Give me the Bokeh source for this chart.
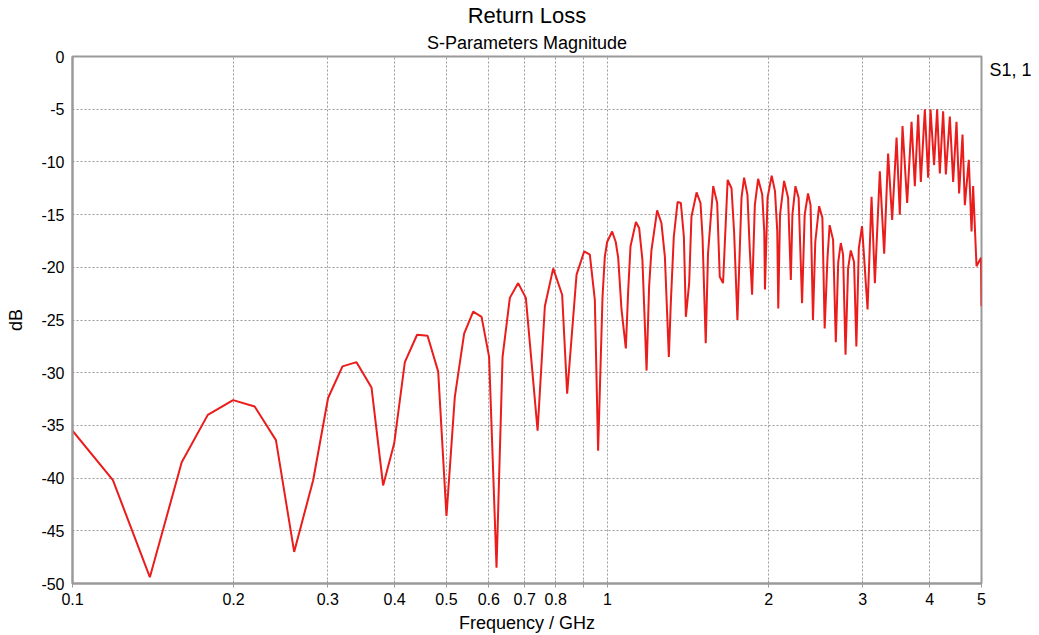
from bokeh.plotting import figure
from bokeh.models import FixedTicker, CustomJSTickFormatter, Title, Range1d, LinearAxis
from bokeh.embed import file_html
from bokeh.resources import INLINE

# ---- data (frequency in GHz, S11 in dB) ----
freq_low = [0.100, 0.119, 0.1395, 0.160, 0.179, 0.1996, 0.219, 0.240, 0.2596, 0.2817,
            0.3004, 0.3196, 0.3395, 0.3621, 0.3807, 0.3993, 0.418, 0.4406, 0.4609, 0.4825]
db_low = [-35.5, -40.2, -49.4, -38.5, -34.0, -32.6, -33.2, -36.4, -47.0, -40.2,
          -32.4, -29.4, -29.0, -31.4, -40.7, -36.7, -29.0, -26.4, -26.5, -29.9]

freq_mid = [0.500, 0.5183, 0.5395, 0.5609, 0.5815, 0.6007, 0.6202, 0.6365, 0.6568, 0.6807,
            0.7036, 0.7401, 0.7636, 0.7915, 0.8226, 0.8405, 0.8752, 0.9044, 0.9267, 0.9468,
            0.9603]
db_mid = [-43.6, -32.3, -26.3, -24.2, -24.7, -28.5, -48.5, -28.5, -22.9, -21.5,
          -22.9, -35.5, -23.7, -20.1, -22.6, -32.0, -20.7, -18.5, -18.8, -23.1,
          -37.4]

freq_1to2 = [0.9787, 0.9884, 0.9983, 1.020, 1.036, 1.047, 1.062, 1.082, 1.093, 1.104,
             1.130, 1.146, 1.162, 1.183, 1.196, 1.208, 1.238, 1.261, 1.280, 1.302,
             1.313, 1.330, 1.352, 1.371, 1.389, 1.401, 1.421, 1.435, 1.467, 1.492,
             1.505, 1.526, 1.541, 1.576, 1.603, 1.621, 1.644, 1.677, 1.705, 1.724,
             1.749, 1.767, 1.780, 1.800, 1.826, 1.844, 1.863, 1.885, 1.912, 1.946,
             1.963, 1.969, 1.991]
db_1to2 = [-22.8, -19.0, -17.6, -16.6, -17.6, -19.1, -24.0, -27.7, -22.2, -18.0,
           -15.7, -16.3, -19.3, -29.8, -21.8, -18.4, -14.6, -15.8, -19.0, -28.5,
           -23.4, -17.1, -13.8, -13.9, -17.1, -24.7, -21.5, -15.2, -12.9, -13.9,
           -17.1, -27.2, -18.7, -12.3, -13.9, -20.9, -21.5, -11.7, -12.5, -16.6,
           -25.0, -18.2, -13.4, -11.5, -13.1, -18.2, -22.6, -14.1, -11.6, -13.1,
           -16.6, -22.1, -13.4]

freq_2to3 = [2.027, 2.056, 2.076, 2.085, 2.101, 2.138, 2.175, 2.201, 2.216, 2.245,
             2.276, 2.310, 2.336, 2.370, 2.396, 2.421, 2.445, 2.486, 2.521, 2.546,
             2.577, 2.601, 2.640, 2.671, 2.699, 2.729, 2.756, 2.785, 2.816, 2.849,
             2.889, 2.918, 2.949, 2.990]
db_2to3 = [-11.3, -12.8, -16.6, -23.9, -15.0, -11.8, -13.4, -21.2, -15.0, -12.3,
           -13.4, -23.4, -15.0, -13.0, -14.1, -25.0, -17.6, -14.2, -15.3, -25.8,
           -19.1, -16.0, -17.4, -27.1, -19.5, -17.7, -18.8, -28.3, -20.1, -18.4,
           -19.5, -27.5, -18.2, -16.1]

freq_top = [3.062, 3.115, 3.160, 3.228, 3.289, 3.345, 3.404, 3.469, 3.518, 3.559,
            3.631, 3.700, 3.753, 3.807, 3.851, 3.918, 3.974, 4.015, 4.077, 4.131,
            4.179, 4.239, 4.289, 4.363, 4.426, 4.490, 4.541, 4.608, 4.654, 4.734,
            4.790, 4.823, 4.894, 4.990, 5.000]
db_top = [-24.0, -13.3, -21.5, -10.9, -18.7, -9.2, -15.5, -7.7, -15.0, -6.6,
          -13.9, -6.2, -12.3, -5.5, -11.9, -5.0, -11.5, -5.0, -10.3, -5.0,
          -11.1, -5.2, -11.2, -5.7, -11.9, -6.2, -13.0, -7.4, -14.1, -9.8,
          -16.6, -12.3, -19.9, -19.1, -23.7]

x_ticks = [0.1, 0.2, 0.3, 0.4, 0.5, 0.6, 0.7, 0.8, 0.9, 1, 2, 3, 4, 5]
y_ticks = [0, -5, -10, -15, -20, -25, -30, -35, -40, -45, -50]
series_name = "S1, 1"
series_label_db = -1.3

freq = freq_low + freq_mid + freq_1to2 + freq_2to3 + freq_top
db = db_low + db_mid + db_1to2 + db_2to3 + db_top

FONT = "Liberation Sans"
GRAY = "#9a9a9a"

p = figure(width=1039, height=635, x_axis_type="log",
           x_range=Range1d(0.1, 5), y_range=Range1d(-50, 0),
           output_backend="svg", toolbar_location=None, title=None,
           min_border_left=72, min_border_right=58,
           min_border_top=56, min_border_bottom=52)

p.background_fill_color = "white"
p.border_fill_color = "white"
p.outline_line_color = GRAY
p.outline_line_width = 2

p.line(freq, db, line_color="#ea1c1c", line_width=2)

# axes
p.xaxis.ticker = FixedTicker(ticks=x_ticks)
p.xaxis.formatter = CustomJSTickFormatter(code="return tick == 0.9 ? '' : String(tick);")
p.yaxis.ticker = FixedTicker(ticks=y_ticks)
p.yaxis.formatter = CustomJSTickFormatter(code="return tick.toFixed(0);")

for ax in (p.xaxis, p.yaxis):
    ax.axis_line_color = GRAY
    ax.axis_line_width = 2
    ax.minor_tick_line_color = None
    ax.major_label_text_font = FONT
    ax.major_label_text_font_size = "16px"
    ax.major_label_text_color = "black"
    ax.axis_label_text_font = FONT
    ax.axis_label_text_font_size = "18px"
    ax.axis_label_text_font_style = "normal"
    ax.axis_label_text_color = "black"

p.xaxis.major_tick_in = 3
p.xaxis.major_tick_out = 4
p.xaxis.major_tick_line_color = GRAY
p.xaxis.major_label_standoff = 5
p.xaxis.axis_label = "Frequency / GHz"
p.xaxis.axis_label_standoff = 5

p.yaxis.major_tick_in = 0
p.yaxis.major_tick_out = 0
p.yaxis.major_label_standoff = 8
p.yaxis.axis_label = "dB"
p.yaxis.axis_label_standoff = 12

# series name on the right, as a one-tick axis
right = LinearAxis(ticker=FixedTicker(ticks=[series_label_db]),
                   formatter=CustomJSTickFormatter(code="return '%s';" % series_name),
                   axis_line_color=None, major_tick_line_color=None,
                   major_tick_in=0, major_tick_out=0,
                   minor_tick_line_color=None, major_label_standoff=8,
                   major_label_text_font=FONT, major_label_text_font_size="18px",
                   major_label_text_color="black")
p.add_layout(right, "right")

# grid
for g in (p.xgrid, p.ygrid):
    g.grid_line_color = GRAY
    g.grid_line_dash = "2 2"
    g.grid_line_width = 1
p.xgrid.ticker = FixedTicker(ticks=x_ticks)
p.ygrid.ticker = FixedTicker(ticks=y_ticks)

# titles
p.add_layout(Title(text="S-Parameters Magnitude", align="center", text_font=FONT,
                   text_font_size="18px", text_font_style="normal", text_color="black",
                   standoff=7), "above")
p.add_layout(Title(text="Return Loss", align="center", text_font=FONT,
                   text_font_size="22px", text_font_style="normal", text_color="black",
                   standoff=0), "above")

open("out.html", "w").write(file_html(p, INLINE))
